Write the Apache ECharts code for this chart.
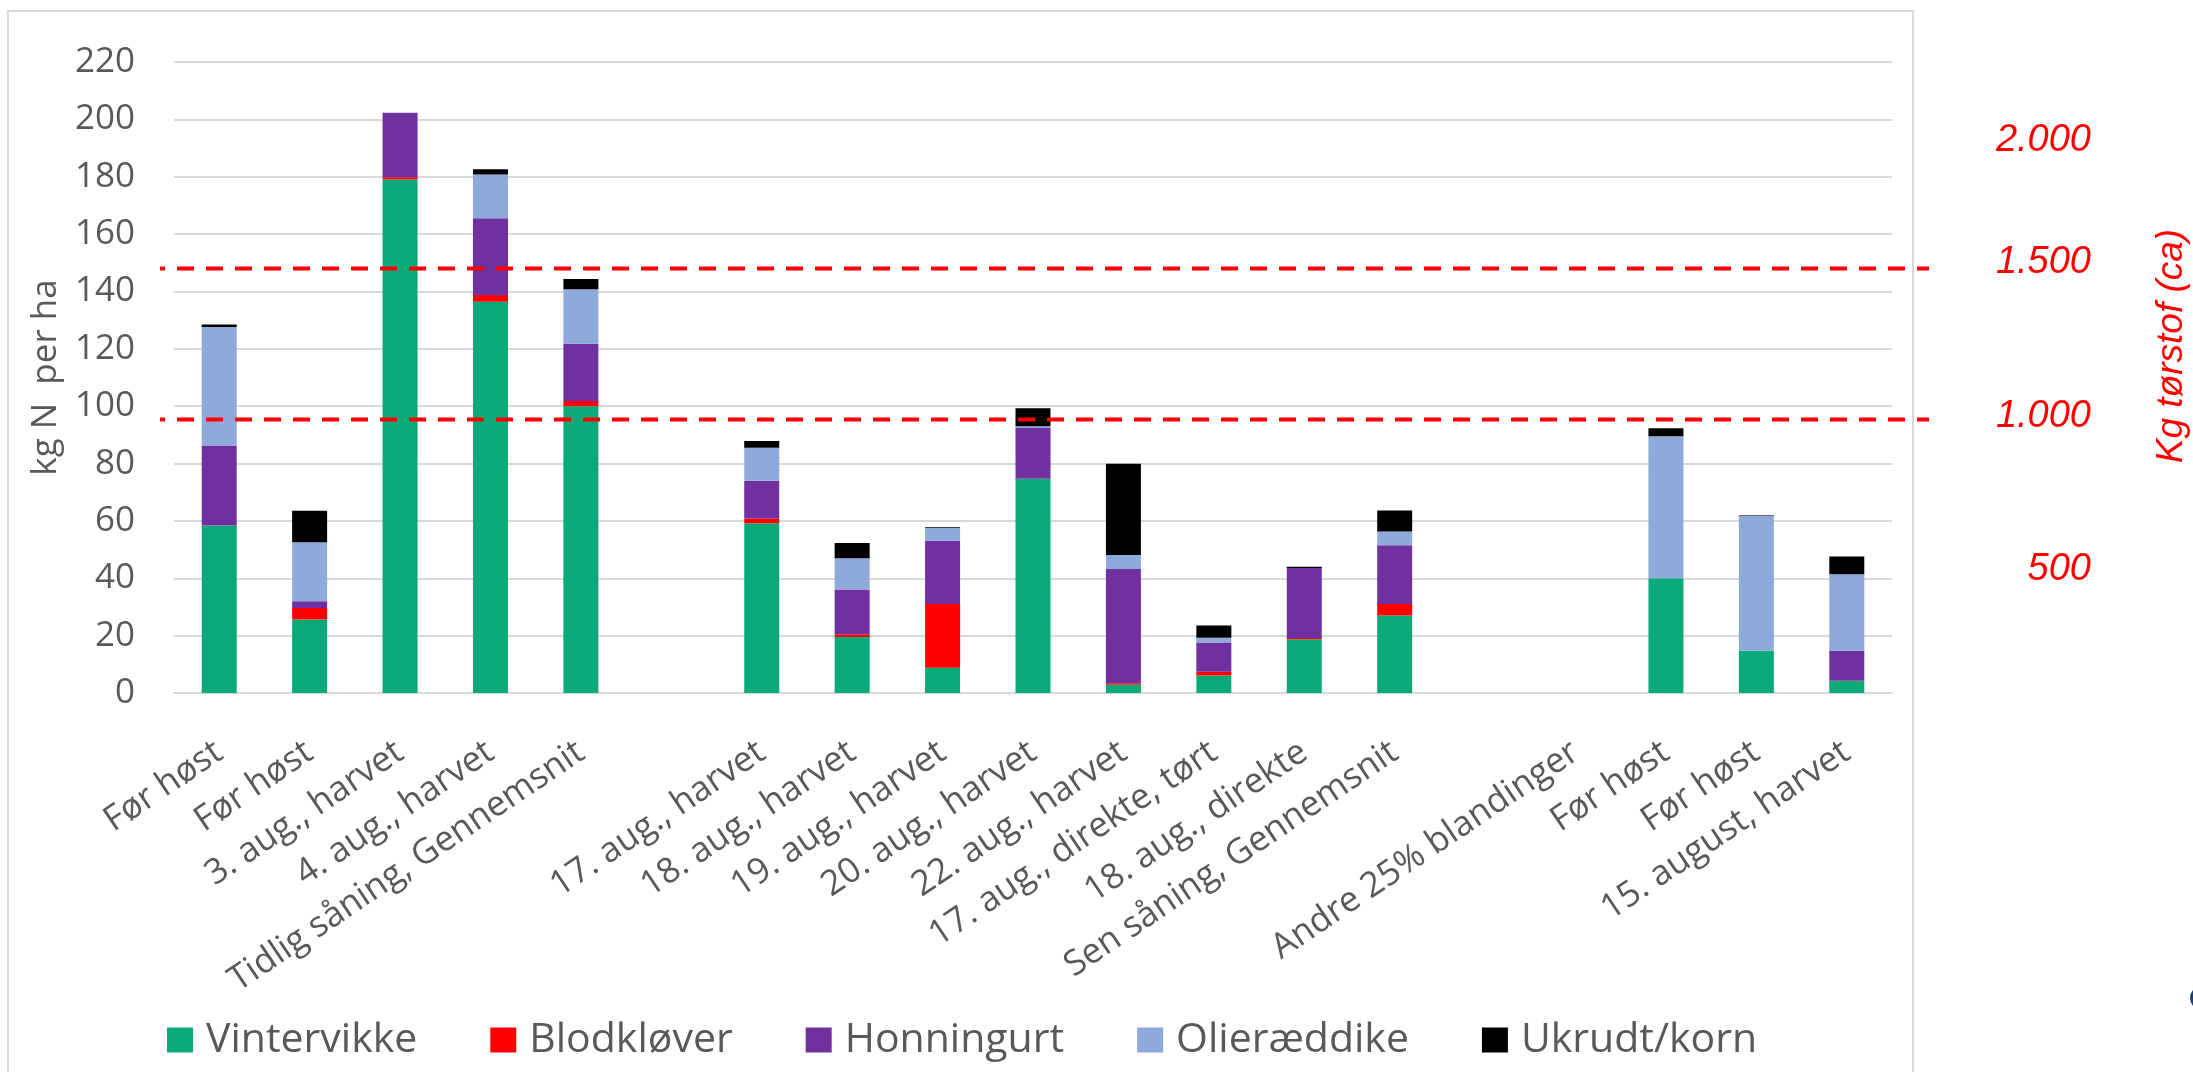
<!DOCTYPE html>
<html>
<head>
<meta charset="utf-8">
<script src="https://cdn.jsdelivr.net/npm/echarts@6/dist/echarts.min.js"></script>
<style>
  html, body { margin: 0; padding: 0; background: #fff; }
  #chart { width: 2193px; height: 1072px; }
</style>
</head>
<body>
<div id="chart"></div>
<script>
// Categories (blank slots are gaps between groups)
const categories = [
    'Før høst', 'Før høst', '3. aug., harvet', '4. aug., harvet', 'Tidlig såning, Gennemsnit',
    '',
    '17. aug., harvet', '18. aug., harvet', '19. aug., harvet', '20. aug., harvet', '22. aug., harvet',
    '17. aug., direkte, tørt', '18. aug., direkte', 'Sen såning, Gennemsnit',
    '',
    'Andre 25% blandinger', 'Før høst', 'Før høst', '15. august, harvet'
];

// kg N per ha for each component
const vintervikke = [58.4, 25.6, 179, 136.4, 100, null, 59.2, 19.5, 8.8, 74.7, 2.9, 6.1, 18.7, 27, null, null, 40, 14.7, 4.3];
const blodklover  = [0, 4.0, 0.8, 2.4, 1.8, null, 1.6, 1.0, 22.2, 0, 0.5, 1.3, 0.5, 4, null, null, 0, 0, 0];
const honningurt  = [27.9, 2.4, 22.5, 26.7, 20, null, 13.2, 15.6, 22.1, 17.7, 39.8, 10.2, 24.4, 20.5, null, null, 0, 0, 10.4];
const olieraeddike = [41.3, 20.6, 0, 15.3, 19, null, 11.5, 10.9, 4.5, 0.6, 4.9, 1.7, 0, 4.8, null, null, 49.5, 47.2, 26.7];
const ukrudt      = [0.9, 10.9, 0, 1.8, 3.5, null, 2.4, 5.3, 0.3, 6.3, 31.8, 4.2, 0.4, 7.3, null, null, 2.8, 0.2, 6.2];

// Dry matter reference lines (in kg N scale) and right-hand labels
const dmLineValues = [148, 95.4];
const dmLabels = ['2.000', '1.500', '1.000', '500'];
const dmLabelValues = [192.5, 150.1, 96.6, 43.2];

const seriesNames = ['Vintervikke', 'Blodkløver', 'Honningurt', 'Olieræddike', 'Ukrudt/korn'];
const seriesData = [vintervikke, blodklover, honningurt, olieraeddike, ukrudt];
const colors = ['#0aaa78', '#ff0000', '#7030a0', '#8eaadb', '#000000'];

const chart = echarts.init(document.getElementById('chart'));

const option = {
    animation: false,
    backgroundColor: '#ffffff',
    grid: { left: 174, right: 301, top: 62, bottom: 379 },
    legend: {
        data: seriesNames,
        left: 162,
        top: 1010,
        itemWidth: 26,
        itemHeight: 25,
        itemGap: 73,
        icon: 'rect',
        textStyle: {
            fontFamily: 'Open Sans',
            fontSize: 41,
            color: '#595959',
            lineHeight: 50,
            padding: [0, 0, 0, 8]
        }
    },
    xAxis: {
        type: 'category',
        data: categories,
        axisLine: { lineStyle: { color: '#d9d9d9', width: 2 } },
        axisTick: { show: false },
        axisLabel: {
            interval: 0,
            rotate: 34,
            margin: 56,
            fontFamily: 'Open Sans',
            fontSize: 35,
            color: '#595959',
            hideOverlap: false
        }
    },
    yAxis: {
        type: 'value',
        min: 0,
        max: 220,
        interval: 20,
        name: 'kg N  per ha',
        nameLocation: 'middle',
        nameRotate: 90,
        nameGap: 110,
        nameTextStyle: { fontFamily: 'Open Sans', fontSize: 35, color: '#595959' },
        axisLine: { show: false },
        axisTick: { show: false },
        axisLabel: { margin: 39, fontFamily: 'Open Sans', fontSize: 35, color: '#595959' },
        splitLine: { lineStyle: { color: '#d9d9d9', width: 2 } }
    },
    series: seriesNames.map((name, i) => ({
        name: name,
        type: 'bar',
        stack: 'total',
        barWidth: 35,
        itemStyle: { color: colors[i] },
        data: seriesData[i]
    }))
};

chart.setOption(option);

// Overlay elements placed on the value scale
const yPx = v => chart.convertToPixel({ yAxisIndex: 0 }, v);

const graphics = [
    {
        type: 'rect',
        shape: { x: 8, y: 11, width: 1905, height: 1100 },
        style: { fill: 'none', stroke: '#d9d9d9', lineWidth: 2 },
        z: -1
    },
    {
        type: 'circle',
        shape: { cx: 2202, cy: 998, r: 10 },
        style: { fill: 'none', stroke: '#1f3d7a', lineWidth: 4 }
    },
    {
        type: 'text',
        x: 2172,
        y: 346,
        rotation: Math.PI / 2,
        style: {
            text: 'Kg tørstof (ca)',
            fill: '#ff0000',
            font: 'italic 37px "Liberation Sans", Arial, sans-serif',
            align: 'center',
            verticalAlign: 'middle'
        }
    }
];

dmLineValues.forEach(v => {
    const y = yPx(v);
    graphics.push({
        type: 'line',
        shape: { x1: 160, y1: y, x2: 1929, y2: y },
        style: { stroke: '#ff0000', lineWidth: 4, lineDash: [17, 12], lineDashOffset: 12 },
        z: 10
    });
});

dmLabels.forEach((t, i) => {
    graphics.push({
        type: 'text',
        x: 2091,
        y: yPx(dmLabelValues[i]),
        style: {
            text: t,
            fill: '#ff0000',
            font: 'italic 38px "Liberation Sans", Arial, sans-serif',
            align: 'right',
            verticalAlign: 'middle'
        }
    });
});

chart.setOption({ graphic: graphics });

window.addEventListener('resize', () => chart.resize());
</script>
</body>
</html>
